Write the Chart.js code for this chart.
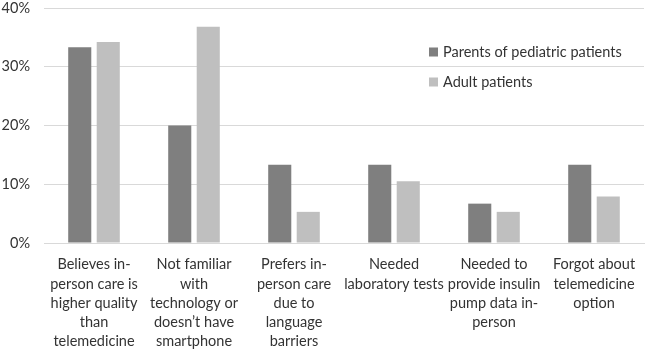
<!DOCTYPE html>
<html><head><meta charset="utf-8">
<script src="https://cdn.jsdelivr.net/npm/chart.js@4/dist/chart.umd.min.js"></script>
<style>html,body{margin:0;padding:0;background:#fff}#wrap{width:647px;height:350px}</style>
</head><body><div id="wrap"><canvas id="c" width="647" height="350"></canvas></div>
<script>
const categories = [
  ["Believes in-","person care is","higher quality","than","telemedicine"],
  ["Not familiar","with","technology or","doesn\u2019t have","smartphone"],
  ["Prefers in-","person care","due to","language","barriers"],
  ["Needed","laboratory tests"],
  ["Needed to","provide insulin","pump data in-","person"],
  ["Forgot about","telemedicine","option"]
];
const seriesNames = ["Parents of pediatric patients","Adult patients"];
const parents = [33.3, 20.0, 13.3, 13.3, 6.7, 13.3];
const adults = [34.2, 36.8, 5.3, 10.5, 5.3, 7.9];
const yTicks = [0,10,20,30,40];
const colors = ["#7f7f7f","#bfbfbf"];
const FONT = "Lato, 'Open Sans', sans-serif";

const legendPlugin = {
  id:'customLegend',
  afterDraw(chart){
    const ctx = chart.ctx;
    const pos = [{x:429,y:52},{x:429,y:82}];
    ctx.save();
    ctx.font = "14.5px " + FONT;
    ctx.textBaseline = "middle";
    chart.data.datasets.forEach((ds,i)=>{
      ctx.fillStyle = ds.backgroundColor;
      ctx.fillRect(pos[i].x, pos[i].y-4.5, 9, 9);
      ctx.fillStyle = "#333333";
      ctx.fillText(ds.label, pos[i].x+14, pos[i].y);
    });
    ctx.restore();
  }
};

new Chart(document.getElementById('c'), {
  type:'bar',
  data:{
    labels: categories,
    datasets:[
      {label:seriesNames[0], data:parents, backgroundColor:colors[0], categoryPercentage:0.57, barPercentage:0.81},
      {label:seriesNames[1], data:adults, backgroundColor:colors[1], categoryPercentage:0.57, barPercentage:0.81}
    ]
  },
  options:{
    responsive:false, animation:false,
    layout:{padding:{top:8,right:3,left:0,bottom:0}},
    plugins:{legend:{display:false}, tooltip:{enabled:false}},
    scales:{
      x:{
        grid:{display:false, drawTicks:false},
        border:{color:"#d9d9d9", width:1},
        ticks:{font:{family:FONT,size:14.5,lineHeight:1.33}, color:"#333333", padding:12, maxRotation:0, autoSkip:false},
        afterFit(s){ s.height = 107; s.paddingLeft = 0; s.paddingRight = 0; }
      },
      y:{
        min:0, max:40,
        afterBuildTicks(s){ s.ticks = yTicks.map(v=>({value:v})); },
        grid:{color:"#d9d9d9", drawTicks:false},
        border:{display:false},
        ticks:{font:{family:FONT,size:14.5}, color:"#333333", padding:14, callback:v=>v+"%"},
        afterFit(s){ s.width = 44; s.paddingTop = 0; s.paddingBottom = 0; }
      }
    }
  },
  plugins:[legendPlugin]
});
</script></body></html>
